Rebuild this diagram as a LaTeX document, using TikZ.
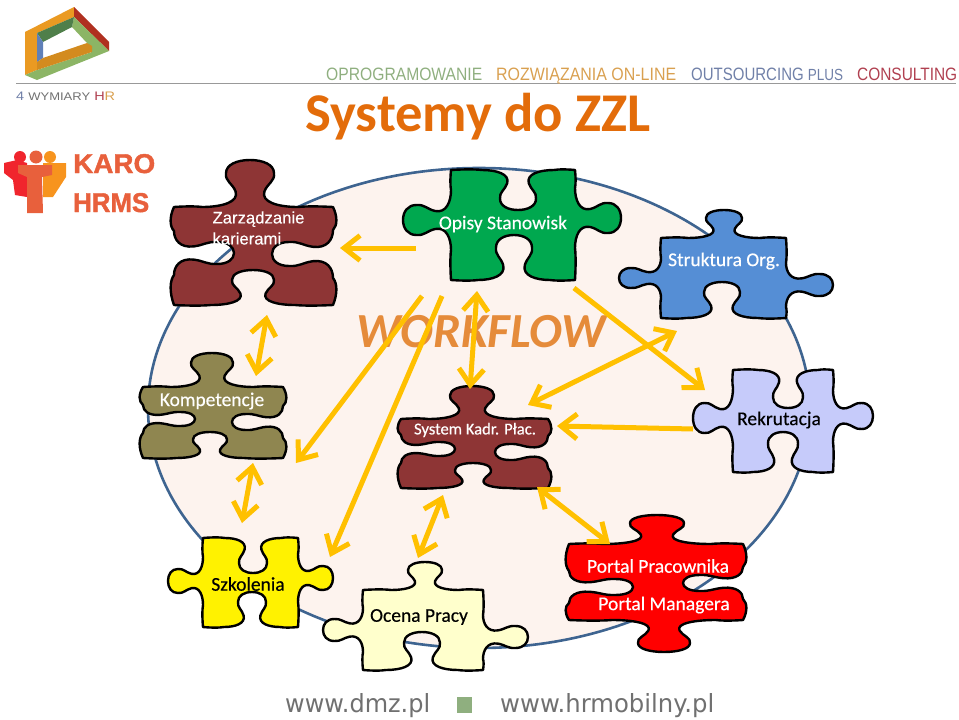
\documentclass[tikz,border=0pt]{standalone}
\usepackage{fontspec}
\usepackage{graphicx}
\usetikzlibrary{arrows.meta}
\setmainfont{Carlito}
\newfontfamily\lblf[FakeBold=0.35]{Carlito}
\newfontfamily\arf{Liberation Sans}
\newfontfamily\arbf[FakeBold=0.3]{Liberation Sans}
\newfontfamily\heavyf[FakeBold=1.6]{Liberation Sans Bold}
\newfontfamily\djf{DejaVu Sans}
\definecolor{gold}{HTML}{FFC000}
\definecolor{ellfill}{HTML}{FDF3EE}
\definecolor{ellline}{HTML}{3E6490}
\definecolor{maroon}{HTML}{8E3535}
\definecolor{olive}{HTML}{8F8650}
\definecolor{grn}{HTML}{00A84F}
\definecolor{blu}{HTML}{558ED5}
\definecolor{lav}{HTML}{C6CBFA}
\definecolor{cream}{HTML}{FFFFCC}
\definecolor{ttl}{HTML}{E36C0A}
\definecolor{wf}{HTML}{E58B3A}
\definecolor{karo}{HTML}{E8603C}
\definecolor{gfoot}{HTML}{707070}
\definecolor{hgreen}{HTML}{8FAF7F}
\definecolor{horange}{HTML}{D9A050}
\definecolor{hblue}{HTML}{7080A8}
\definecolor{hred}{HTML}{B04050}
\definecolor{lorange}{HTML}{EA9A22}
\definecolor{lgreen}{HTML}{8CB565}
\definecolor{ldgreen}{HTML}{4F7F4A}
\definecolor{lred}{HTML}{B03020}
\definecolor{lblue}{HTML}{6080B8}
\definecolor{kred}{HTML}{F0252D}
\definecolor{korange}{HTML}{F7941E}
\def\Q#1#2{({\ex+(\ux)*(#1)+(\uy)*(#2)},{\ey+(\uy)*(#1)-(\ux)*(#2)})}
\def\Bu{1}
\def\Bh{0.8}
\def\Bv{1}
% one side of a piece: corner, direction, length, then centre/depth/half width
\def\addedge#1#2#3#4#5#6/#7/#8;{%
  \def\ex{#1}\def\ey{#2}\def\ux{#3}\def\uy{#4}\def\eL{#5}\def\ec{(#6)}\def\ed{(#7)}\def\eh{(#8)}%
  \edef\pth{\unexpanded\expandafter{\pth}
   .. controls \Q{0.4*(\ec-2*\eh)}{\Bu} and \Q{0.8*(\ec-2*\eh)}{\Bu} .. \Q{\ec-2*\eh}{0}
   .. controls \Q{\ec-1.2*\eh}{0} and \Q{\ec-0.45*\eh}{0.1*\ed} .. \Q{\ec-0.6*\eh}{0.33*\ed}
   .. controls \Q{\ec-0.72*\eh}{0.5*\ed} and \Q{\ec-1.05*\eh}{0.55*\ed} .. \Q{\ec-\eh}{0.72*\ed}
   .. controls \Q{\ec-\eh}{0.9*\ed} and \Q{\ec-0.55*\eh}{\ed} .. \Q{\ec}{\ed}
   .. controls \Q{\ec+0.55*\eh}{\ed} and \Q{\ec+\eh}{0.9*\ed} .. \Q{\ec+\eh}{0.72*\ed}
   .. controls \Q{\ec+1.05*\eh}{0.55*\ed} and \Q{\ec+0.72*\eh}{0.5*\ed} .. \Q{\ec+0.6*\eh}{0.33*\ed}
   .. controls \Q{\ec+0.45*\eh}{0.1*\ed} and \Q{\ec+1.2*\eh}{0} .. \Q{\ec+2*\eh}{0}
   .. controls \Q{0.2*(\eL)+0.8*(\ec+2*\eh)}{\Bu} and \Q{0.6*(\eL)+0.4*(\ec+2*\eh)}{\Bu} .. \Q{\eL}{0}}}
\newcommand\piece[9]{%
  \def\pth{}%
  \pieceB{#1}{#2}{#3}{#4}{#5}{#6}{#7}{#8}{#9}}
\newcommand\pieceB[9]{%
  \let\Bu\Bh
  \splitedge{#2}{#3}{1}{0}{#4-#2}{#6}{-#2}%
  \let\Bu\Bv
  \splitedge{#4}{#3}{0}{1}{#5-#3}{#7}{-#3}%
  \let\Bu\Bh
  \splitedgeR{#4}{#5}{-1}{0}{#4-#2}{#8}{#4}%
  \let\Bu\Bv
  \splitedgeR{#2}{#5}{0}{-1}{#5-#3}{#9}{#5}%
  \draw[piecest,fill=#1] (#2,#3) \pth -- cycle;}
\def\splitedge#1#2#3#4#5#6#7{\splitA{#1}{#2}{#3}{#4}{#5}{#7}#6;}
\def\splitA#1#2#3#4#5#6#7/#8/#9;{\addedge{#1}{#2}{#3}{#4}{#5}#7#6/#8/#9;}
\def\splitedgeR#1#2#3#4#5#6#7{\splitB{#1}{#2}{#3}{#4}{#5}{#7}#6;}
\def\splitB#1#2#3#4#5#6#7/#8/#9;{\addedge{#1}{#2}{#3}{#4}{#5}#6-#7/#8/#9;}
\newcommand\fitbox[3]{\resizebox{#1pt}{#2pt}{#3}}
\tikzset{
  piecest/.style={draw=black,line width=2.4pt,line join=round},
  lbl/.style={inner sep=0pt,font=\lblf\fontsize{19.5}{24}\selectfont},
  tip/.style={},
  arw/.style={draw=gold,line width=5pt,-{Straight Barb[length=16pt,width=25pt]}},
  darw/.style={draw=gold,line width=5pt,{Straight Barb[length=16pt,width=25pt]}-{Straight Barb[length=16pt,width=25pt]}},
  hdr/.style={inner sep=0pt,anchor=base west},
}
\begin{document}
\begin{tikzpicture}[x=1pt,y=-1pt]
\useasboundingbox (0,0) rectangle (959,720);
% header rule
\draw[color=gray!80,line width=1pt] (16,83) -- (956,83);
% logo
\fill[lorange] (25,32) -- (74,7) -- (74,17) -- (37,33) -- (37,70) -- (25,75) -- cycle;
\fill[lred] (74,7) -- (109,42) -- (109,51) -- (74,17) -- cycle;
\fill[lgreen] (74,17) -- (109,51) -- (37,80) -- (25,75) -- (37,70) -- (92,52) -- (87,43) -- (72,27) -- cycle;
\fill[ldgreen] (37,33) -- (74,17) -- (72,27) -- (43,42) -- cycle;
\fill[lblue] (37,33) -- (43,42) -- (43,58) -- (37,62) -- cycle;
\fill[lorange!90!black] (37,62) -- (43,58) -- (87,43) -- (92,46) -- (92,52) -- (37,70) -- cycle;
\node[hdr] (wym) at (16,100.5) {\fitbox{99}{8.5}{\arf\textcolor{hblue}{4 }\textcolor{gfoot}{{\fontsize{9}{9}\selectfont WYMIARY} }\textcolor{hred}{H}\textcolor{horange}{R}}};
% header labels
\node[hdr] (h1) at (326,81) {\fitbox{156}{12.5}{\arf\textcolor{hgreen}{OPROGRAMOWANIE}}};
\node[hdr] (h2) at (496,81) {\fitbox{180}{12.5}{\arf\textcolor{horange}{ROZWIĄZANIA ON-LINE}}};
\node[hdr] (h3) at (691,81) {\fitbox{152}{12.5}{\arf\textcolor{hblue}{OUTSOURCING {\fontsize{9}{9}\selectfont PLUS}}}};
\node[hdr] (h4) at (857,81) {\fitbox{100}{12.5}{\arf\textcolor{hred}{CONSULTING}}};
% title
\node[inner sep=0pt,anchor=base,text=ttl,font=\fontsize{54.6}{60}\selectfont\bfseries] (title) at (478,131) {Systemy do ZZL};
% KARO logo
\fill[korange] (43,163) -- (66,163) -- (66,177) -- (53,197) -- (43,197) -- cycle;
\fill[kred] (4,163) -- (17,160) -- (27,163) -- (27,197) -- (15,195) -- (13,180) -- (4,173) -- cycle;
\fill[karo] (18,165) -- (52,165) -- (52,175) -- (42,177) -- (43,213) -- (27,213) -- (27,177) -- (18,173) -- cycle;
\fill[kred] (20,157) circle[radius=6];
\fill[karo] (36,157) circle[radius=6.5];
\fill[korange] (50,157) circle[radius=6];
\node[hdr] (karo) at (73,173) {\fitbox{82}{19}{\heavyf\textcolor{karo}{KARO}}};
\node[hdr] (hrms) at (73,212) {\fitbox{76}{19}{\heavyf\textcolor{karo}{HRMS}}};
% big ellipse
\draw[fill=ellfill,draw=ellline,line width=2.6pt] (479,408) ellipse[x radius=331,y radius=240];
% footer
\node[hdr] (f1) at (285,712) {\fitbox{145}{19}{\djf\textcolor{gfoot}{www.dmz.pl}}};
\fill[hgreen] (457,697) rectangle (472,713);
\node[hdr] (f2) at (500,712) {\fitbox{214}{19}{\djf\textcolor{gfoot}{www.hrmobilny.pl}}};
% pieces
\def\Bv{4.5}
\piece{maroon}{174}{207}{333}{305}{250/47/24}{254/-61/12}{253/-35/21}{253/-60/11}
\piece{olive}{143}{387}{283}{458}{212/34/21}{422/-51/8}{210/-26/17}{419/-52/7}
\piece{maroon}{401}{419}{548}{488}{472/33/22}{452/-53/8}{473/-25/18}{449/-54/7}
\piece{red}{569}{544}{743}{620}{657/29/27}{583/-60/8}{664/32/26}{587/-64/8}
\def\Bv{0.8}
\piece{grn}{451}{170}{575}{280}{518/-40/18}{218/46/15}{514/-45/18}{220/48/15}
\piece{blu}{661}{238}{786}{318}{724/28/18}{285/47/11}{722/-36/18}{278/42/10}
\piece{lav}{733}{370}{833}{472}{788/-38/15}{416/40/13}{783/-40/15}{418/40/15}
\piece{yellow}{203}{538}{298}{627}{253/-35/14}{578/35/12}{252/-35/14}{581/35/12}
\piece{cream}{363}{590}{483}{670}{425/28/17}{637/45/11}{422/-38/18}{630/40/11}
% piece labels
\node[inner sep=0pt,align=left,text=white,font=\arbf\fontsize{16.7}{21}\selectfont] (zarz) at (258.5,228) {Zarządzanie\\karierami};
\node[lbl,text=white] (opisy) at (503,224) {Opisy Stanowisk};
\node[lbl,text=white] (strukt) at (724,261) {Struktura Org.};
\node[lbl,text=white] (komp) at (212,401) {Kompetencje};
\node[lbl,text=white,font=\lblf\fontsize{16.6}{20}\selectfont] (kadr) at (475,430) {System Kadr. Płac.};
\node[lbl,text=black] (rekr) at (779,420) {Rekrutacja};
\node[lbl,text=black] (szk) at (248,584) {Szkolenia};
\node[lbl,text=black] (ocena) at (419,617) {Ocena Pracy};
\node[lbl,text=white] (port1) at (658,566) {Portal Pracownika};
\node[lbl,text=white] (port2) at (664,605) {Portal Managera};
% WORKFLOW
\node[inner sep=0pt,text=wf,font=\fontsize{49}{50}\selectfont\bfseries\itshape] (wflow) at (481.5,332) {WORKFLOW};
% arrow ends
\coordinate (a1s) at (416,248);  \coordinate (a1e) at (340,248);
\coordinate (a2s) at (267,315);  \coordinate (a2e) at (256,376);
\coordinate (a3s) at (253,463);  \coordinate (a3e) at (242,523);
\coordinate (a4s) at (422,296);  \coordinate (a4e) at (296,463);
\coordinate (a5s) at (442,296);  \coordinate (a5e) at (330,557);
\coordinate (a6s) at (477,291);  \coordinate (a6e) at (470,389);
\coordinate (a7s) at (574,288);  \coordinate (a7e) at (705,390);
\coordinate (a8s) at (677,331);  \coordinate (a8e) at (528,405);
\coordinate (a9s) at (693,429);  \coordinate (a9e) at (557,426);
\coordinate (a10s) at (443,495); \coordinate (a10e) at (418,558);
\coordinate (a11s) at (537,487); \coordinate (a11e) at (610,544);
\draw[arw] (a1s) -- (a1e);
\draw[darw] (a2s) -- (a2e);
\draw[darw] (a3s) -- (a3e);
\draw[arw] (a4s) -- (a4e);
\draw[arw] (a5s) -- (a5e);
\draw[darw] (a6s) -- (a6e);
\draw[arw] (a7s) -- (a7e);
\draw[darw] (a8s) -- (a8e);
\draw[arw] (a9s) -- (a9e);
\draw[darw] (a10s) -- (a10e);
\draw[darw] (a11s) -- (a11e);
\end{tikzpicture}
\end{document}
